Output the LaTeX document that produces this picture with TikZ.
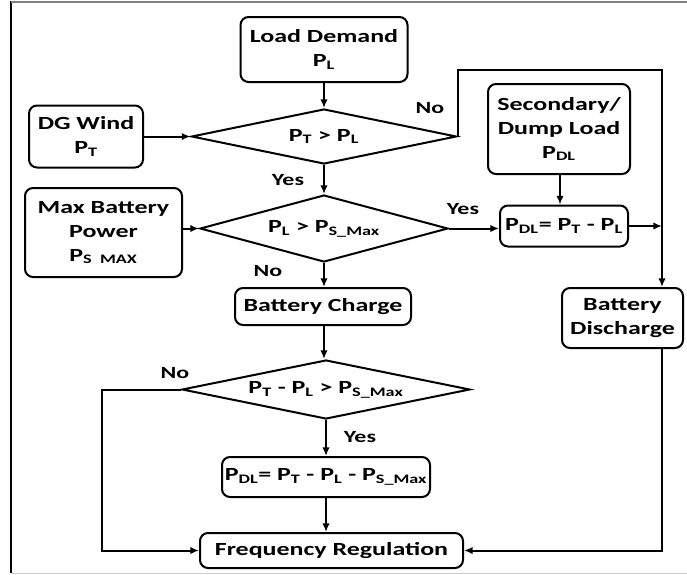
\documentclass[tikz,border=0pt]{standalone}
\usepackage{fontspec}
\setmainfont{Carlito}[FakeStretch=1.4]
\usetikzlibrary{shapes.geometric,arrows.meta}
\begin{document}
\begin{tikzpicture}[x=0.75pt,y=-0.75pt, line width=1.5pt,
  font=\fontsize{13.9}{18}\selectfont\bfseries,
  box/.style 2 args={draw, rounded corners=6pt, align=center, inner sep=0pt,
     minimum width=#1*0.75pt, minimum height=#2*0.75pt},
  dia/.style n args={3}{draw, diamond, inner sep=0pt, align=center, aspect=#3,
     minimum width=#1*0.75pt, minimum height=#2*0.75pt},
  arr/.style={-{Latex[length=6.5pt,width=5.5pt]}},
  lbl/.style={font=\fontsize{12.8}{13}\selectfont\bfseries, inner sep=0pt}]
\useasboundingbox (0,0) rectangle (687,575);
% frame
\draw[line width=0.8pt] (11,1) -- (11,573);
\draw[line width=1.5pt, gray] (11,1.5) -- (687,1.5);
\draw[line width=0.8pt, black!20] (11,573.5) -- (687,573.5);
% nodes
\node[box={167}{65}] (ld) at (324,49.5) {Load Demand\\P\textsubscript{L}};
\node[dia={265}{55}{4.818}] (d1) at (324,136.5) {P\textsubscript{T} > P\textsubscript{L}};
\node[box={114}{62}] (dg) at (86,136.5) {DG Wind\\P\textsubscript{T}};
\node[box={142}{90}] (sd) at (559,129) {Secondary/\\Dump Load\\P\textsubscript{DL}};
\node[dia={248}{67}{3.701}] (d2) at (324,228.5) {P\textsubscript{L} > P\textsubscript{S\_Max}};
\node[box={157}{89}] (mb) at (103.5,232.5) {Max Battery\\Power\\P\textsubscript{S\ \ MAX}};
\node[box={128}{41}] (p1) at (564,226) {P\textsubscript{DL}= P\textsubscript{T} - P\textsubscript{L}};
\node[box={176}{37}] (bc) at (323,306.5) {Battery Charge};
\node[box={121}{60}] (bd) at (622.5,318) {Battery\\Discharge};
\node[dia={288}{59}{4.881}] (d3) at (326,389.5) {P\textsubscript{T} - P\textsubscript{L} > P\textsubscript{S\_Max}};
\node[box={208}{40}] (p2) at (326,477) {P\textsubscript{DL}= P\textsubscript{T} - P\textsubscript{L} - P\textsubscript{S\_Max}};
\node[box={263}{35}] (fr) at (331.5,550.5) {Frequency Regulation};
% coordinates
\coordinate (t) at (662,70);
\coordinate (b) at (662,550.5);
\coordinate (l) at (102,389.5);
% connectors
\draw[arr] (ld) -- (d1);
\draw[arr] (dg) -- (d1);
\draw[arr] (d1) -- (d2);
\draw[arr] (mb.east |- d2) -- (d2.west);
\draw[arr] (d2.east) -- (d2.east -| p1.west);
\draw[arr] (sd.south -| 560,0) -- (560,0 |- p1.north);
\draw[arr] (d2) -- (d2 |- bc.north);
\draw[arr] (bc.south -| d2) -- (d2 |- d3.north);
\draw[arr] (d1.east) |- (t) -- (t |- bd.north);
\draw[arr] (p1.east) -- (p1.east -| t);
\draw[arr] (bd.south -| t) -- (b) -- (fr.east);
\draw[arr] (d3.west) -- (l) |- (fr.west);
\draw[arr] (d3.south) -- (d3.south |- p2.north);
\draw[arr] (p2.south -| d3.south) -- (d3.south |- fr.north);
% labels
\node[lbl] (n1) at (430,108) {No};
\node[lbl] (y1) at (288,180) {Yes};
\node[lbl] (y2) at (463,209) {Yes};
\node[lbl] (n2) at (268,271) {No};
\node[lbl] (n3) at (175,373) {No};
\node[lbl] (y3) at (360,437) {Yes};
\end{tikzpicture}
\end{document}
